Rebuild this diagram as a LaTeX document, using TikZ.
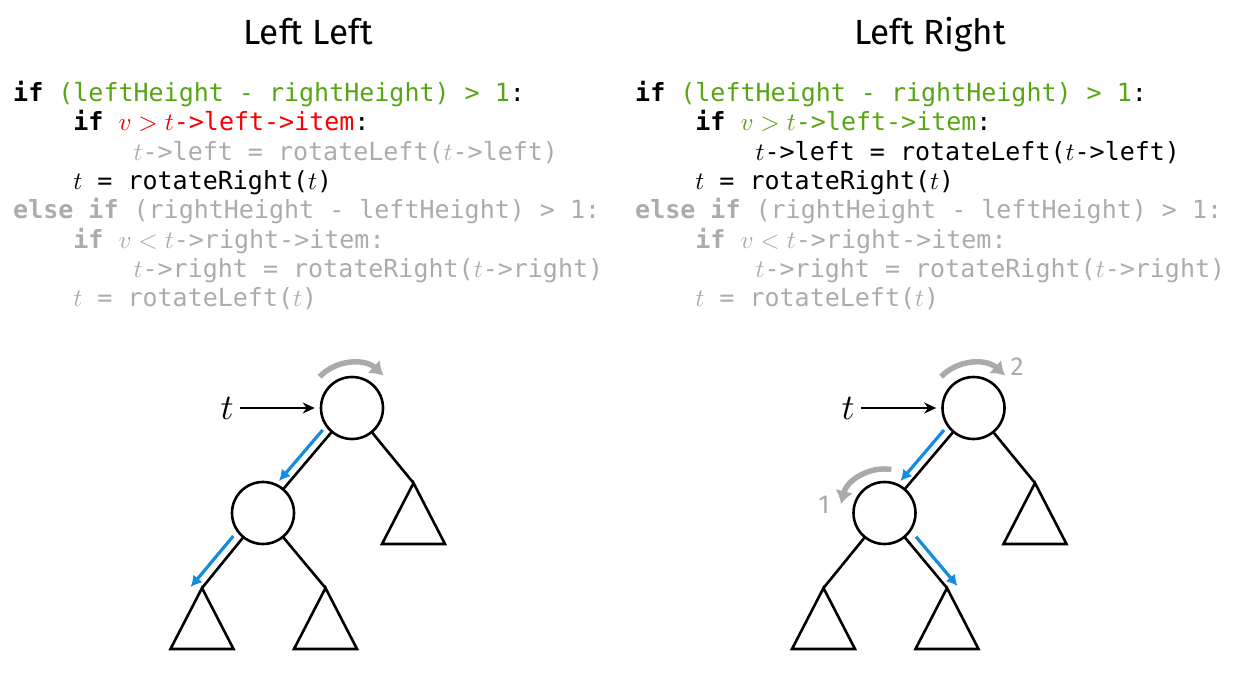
\documentclass[tikz,border=0pt]{standalone}
\usepackage{fontspec}
\DeclareFontFamily{OML}{cmm}{\skewchar\font'177}
\DeclareFontShape{OML}{cmm}{m}{it}{<->cmmi10}{}
\DeclareFontShape{OML}{cmm}{b}{it}{<->cmmib10}{}
\setmonofont{DejaVu Sans Mono}
\newfontfamily\titlefont{Fira Sans}
\usetikzlibrary{arrows.meta,calc}
\definecolor{codegreen}{RGB}{88,165,20}
\definecolor{codegray}{RGB}{172,172,172}
\definecolor{rotgray}{RGB}{170,170,170}
\definecolor{arrblue}{RGB}{20,140,225}
\definecolor{codered}{RGB}{250,0,0}
\begin{document}
\begin{tikzpicture}[x=1pt,y=-1pt,
  title/.style={anchor=base,inner sep=0pt,font=\titlefont\fontsize{35}{40}\selectfont},
  codeline/.style={anchor=base west,inner sep=0pt,font=\ttfamily\fontsize{25}{30}\selectfont},
  treenode/.style={circle,draw,line width=2.6pt,minimum size=62pt,inner sep=0pt},
  edge/.style={line width=2.6pt,line cap=round},
  subtree/.style={line width=2.6pt,line join=miter},
  tlabel/.style={inner sep=0pt,font=\fontsize{36}{40}\selectfont},
  tarrow/.style={line width=2pt,-{Stealth[length=12pt,width=11pt]},shorten >=5pt},
  rotarrow/.style={line width=5.5pt,rotgray,-{Latex[length=13pt,width=18pt]}},
  walk/.style={line width=3.2pt,arrblue,-{Latex[length=11pt,width=12pt]}},
  numlabel/.style={anchor=base,inner sep=0pt,text=rotgray,font=\titlefont\fontsize{26}{30}\selectfont}]
\useasboundingbox (0,0) rectangle (1245,678);

% ---------- titles ----------
\node[title] (titleL) at (308,44) {Left Left};
\node[title] (titleR) at (930,44) {Left Right};

% ---------- left code ----------
\def\cw{15.05}
\node[codeline] (l1) at (13,101.5) {\textbf{if} \textcolor{codegreen}{(leftHeight - rightHeight) > 1}:};
\node[codeline] (l2) at ({13+4*\cw},130.8) {\textbf{if} \textcolor{codered}{$v > t$->left->item}:};
\node[codeline,text=codegray] (l3) at ({13+8*\cw},160.1) {$t$->left = rotateLeft($t$->left)};
\node[codeline] (l4) at ({13+4*\cw},189.4) {$t$ = rotateRight($t$)};
\node[codeline,text=codegray] (l5) at (13,218.7) {\textbf{else if} (rightHeight - leftHeight) > 1:};
\node[codeline,text=codegray] (l6) at ({13+4*\cw},248) {\textbf{if} $v < t$->right->item:};
\node[codeline,text=codegray] (l7) at ({13+8*\cw},277.3) {$t$->right = rotateRight($t$->right)};
\node[codeline,text=codegray] (l8) at ({13+4*\cw},306.6) {$t$ = rotateLeft($t$)};

% ---------- right code ----------
\def\rx{635}
\node[codeline] (r1) at (\rx,101.5) {\textbf{if} \textcolor{codegreen}{(leftHeight - rightHeight) > 1}:};
\node[codeline] (r2) at ({\rx+4*\cw},130.8) {\textbf{if} \textcolor{codegreen}{$v > t$->left->item}:};
\node[codeline] (r3) at ({\rx+8*\cw},160.1) {$t$->left = rotateLeft($t$->left)};
\node[codeline] (r4) at ({\rx+4*\cw},189.4) {$t$ = rotateRight($t$)};
\node[codeline,text=codegray] (r5) at (\rx,218.7) {\textbf{else if} (rightHeight - leftHeight) > 1:};
\node[codeline,text=codegray] (r6) at ({\rx+4*\cw},248) {\textbf{if} $v < t$->right->item:};
\node[codeline,text=codegray] (r7) at ({\rx+8*\cw},277.3) {$t$->right = rotateRight($t$->right)};
\node[codeline,text=codegray] (r8) at ({\rx+4*\cw},306.6) {$t$ = rotateLeft($t$)};

% ---------- left tree ----------
\node[treenode] (rootL) at (352,408) {};
\node[treenode] (childL) at (263,513) {};
\coordinate (rtL) at (413.5,483);
\coordinate (llL) at (202,588);
\coordinate (lrL) at (325.5,588);
\draw[edge] (rootL) -- (childL);
\draw[edge] (rootL) -- (rtL);
\draw[edge] (childL) -- (llL);
\draw[edge] (childL) -- (lrL);
\foreach \a in {rtL,llL,lrL}{
  \draw[subtree] (\a) -- ++(-31.5,61) -- ++(63,0) -- cycle;
}
\node[tlabel] (tL) at (227,408) {$t$};
\draw[tarrow] (tL.east) ++(6,0) coordinate (tLs) (tLs) -- (rootL.west);
\draw[rotarrow] ($(rootL)+(-32.4,-31.3)$) .. controls ($(rootL)+(-15.4,-48.9)$) and ($(rootL)+(12.8,-49.6)$) .. ($(rootL)+(31.5,-32.5)$);
\coordinate (b1sL) at (322.7,430);
\coordinate (b1eL) at (279,481);
\coordinate (b2sL) at (233.3,536);
\coordinate (b2eL) at (190.7,587);
\draw[walk] (b1sL) -- (b1eL);
\draw[walk] (b2sL) -- (b2eL);

% ---------- right tree ----------
\node[treenode] (rootR) at (973.5,408) {};
\node[treenode] (childR) at (884.5,513) {};
\coordinate (rtR) at (1035,483);
\coordinate (llR) at (823.5,588);
\coordinate (lrR) at (947,588);
\draw[edge] (rootR) -- (childR);
\draw[edge] (rootR) -- (rtR);
\draw[edge] (childR) -- (llR);
\draw[edge] (childR) -- (lrR);
\foreach \a in {rtR,llR,lrR}{
  \draw[subtree] (\a) -- ++(-31.5,61) -- ++(63,0) -- cycle;
}
\node[tlabel] (tR) at (848,408) {$t$};
\draw[tarrow] (tR.east) ++(6,0) coordinate (tRs) (tRs) -- (rootR.west);
\draw[rotarrow] ($(rootR)+(-32.4,-31.3)$) .. controls ($(rootR)+(-15.4,-48.9)$) and ($(rootR)+(12.8,-49.6)$) .. ($(rootR)+(31.5,-32.5)$);
\node[numlabel] (n2) at (1017,375) {2};
\draw[rotarrow] ($(childR)+(6.9,-43.5)$) .. controls ($(childR)+(-15.8,-47.1)$) and ($(childR)+(-37.7,-32.3)$) .. ($(childR)+(-43.5,-9)$);
\node[numlabel] (n1) at (824,513) {1};
\coordinate (b1sR) at (944,430);
\coordinate (b1eR) at (900.5,481);
\coordinate (b3sR) at (916,536.7);
\coordinate (b3eR) at (957.5,586);
\draw[walk] (b1sR) -- (b1eR);
\draw[walk] (b3sR) -- (b3eR);
\end{tikzpicture}
\end{document}
